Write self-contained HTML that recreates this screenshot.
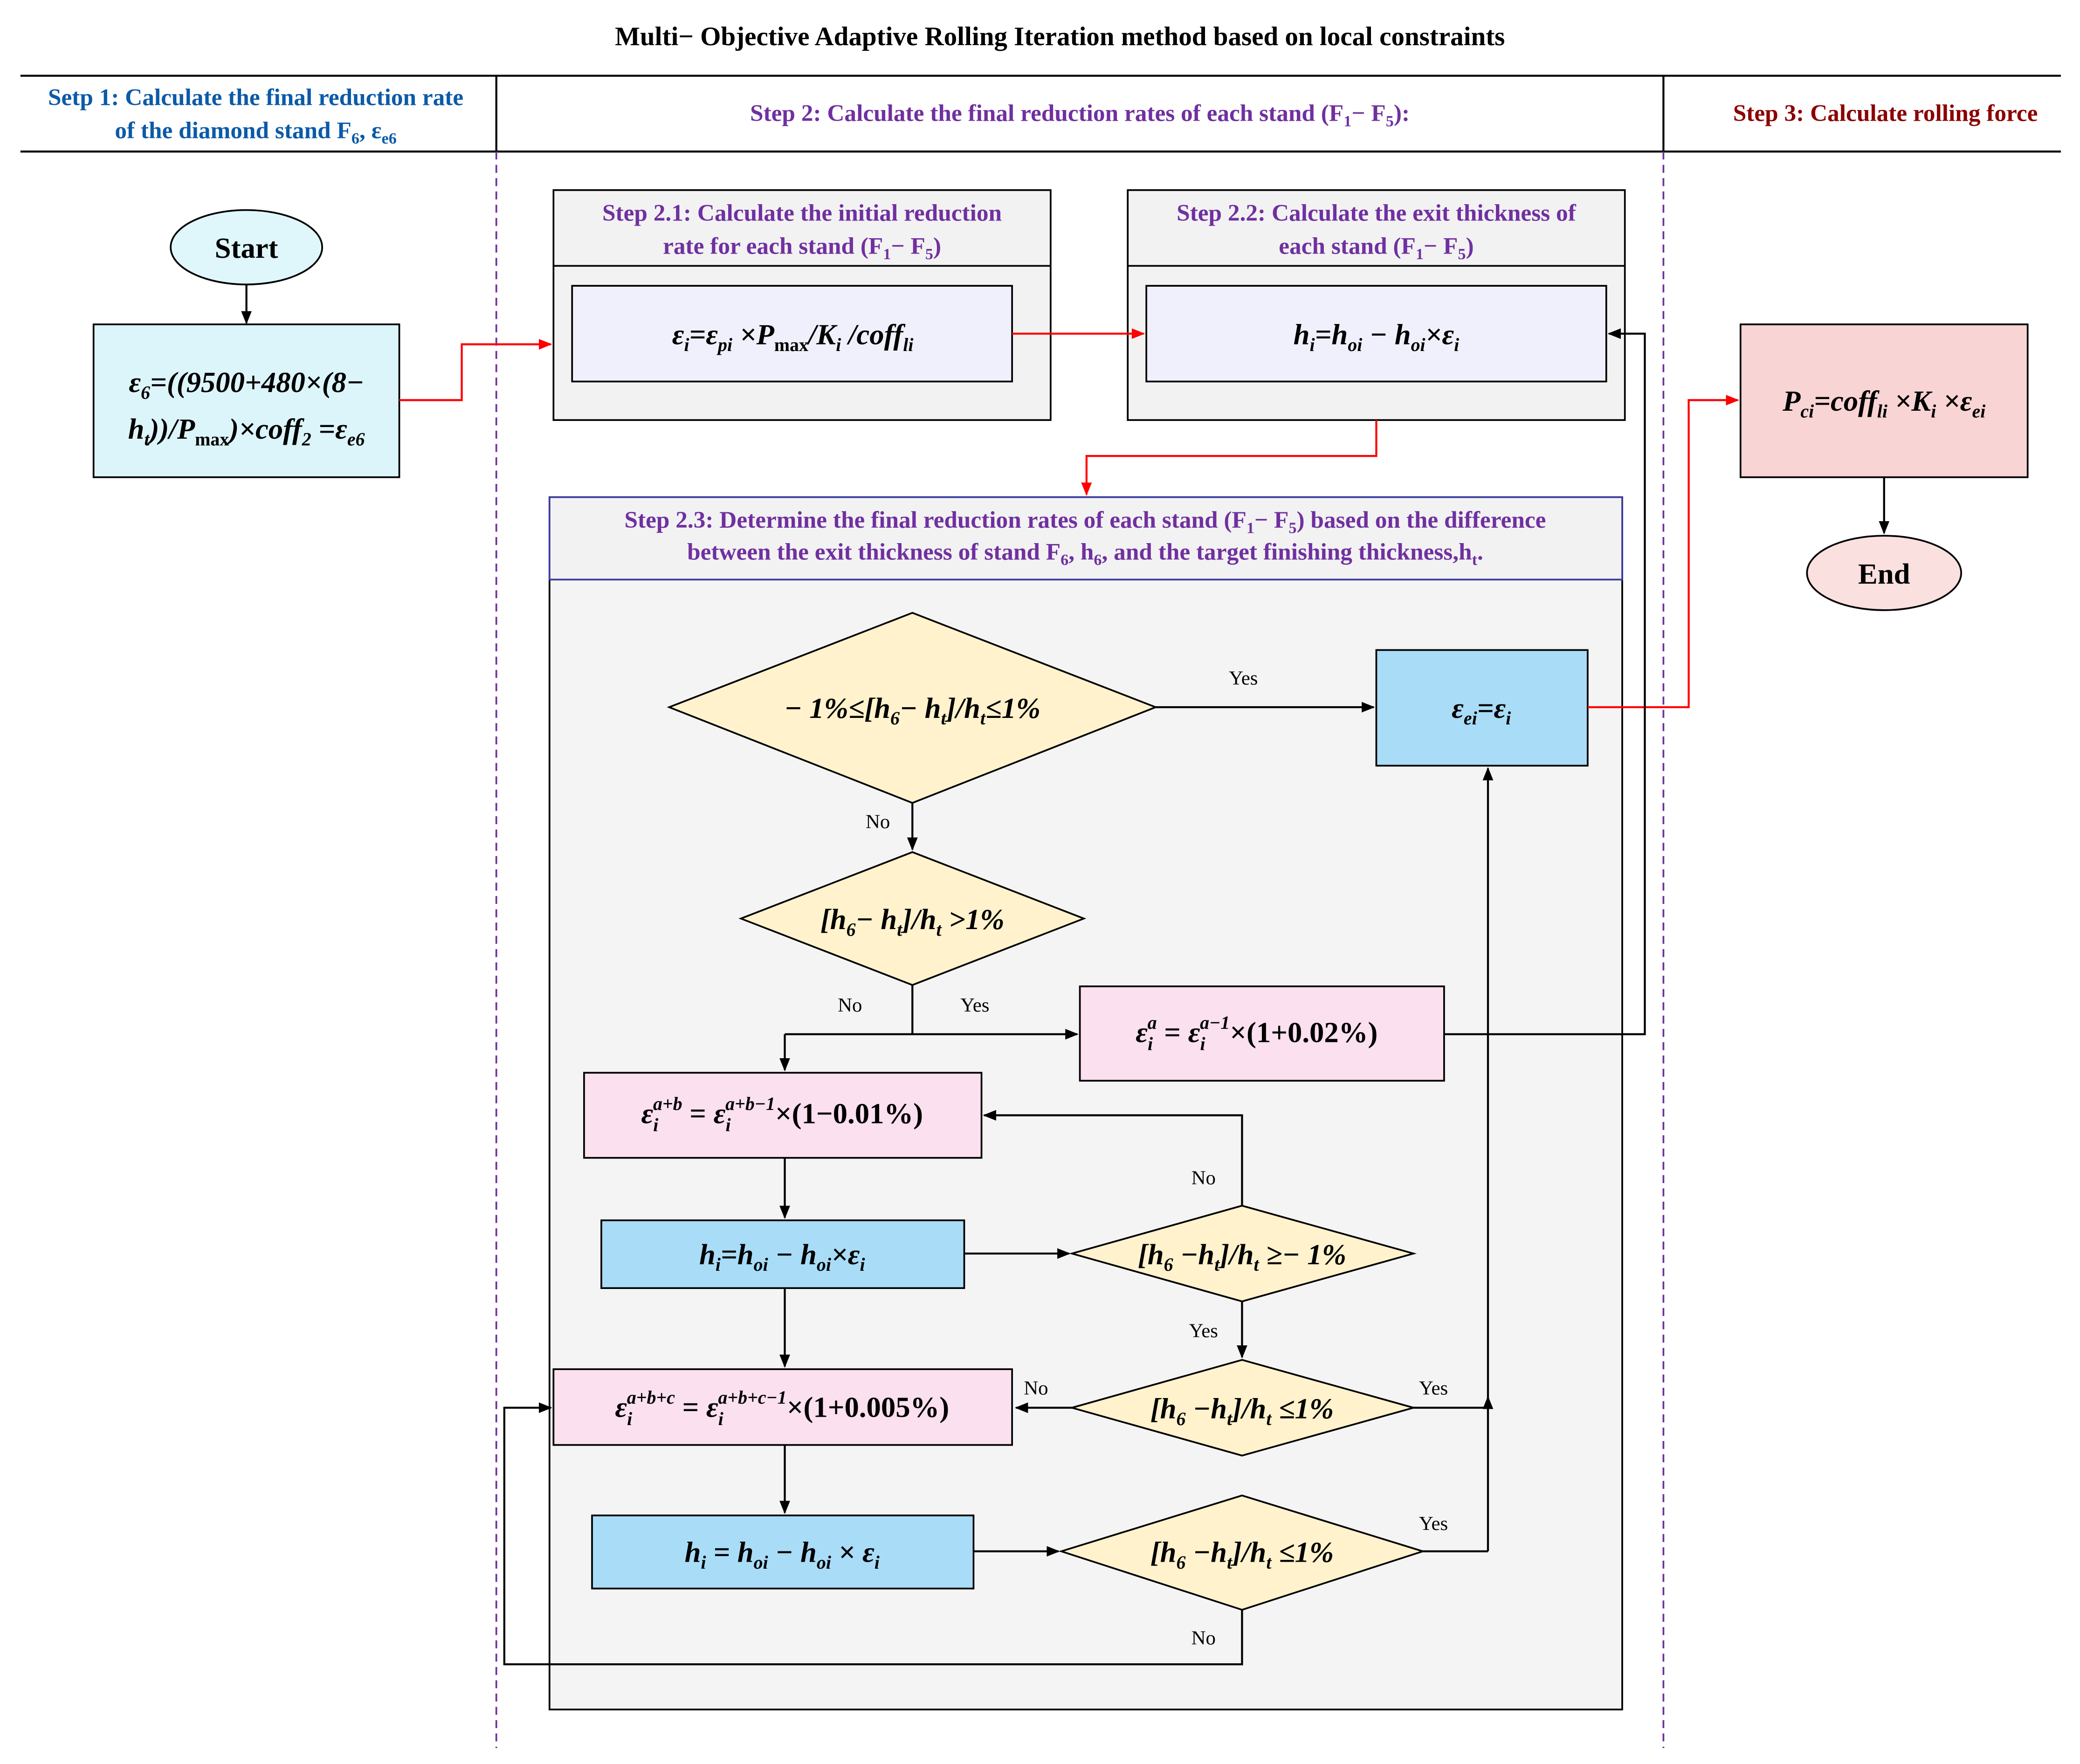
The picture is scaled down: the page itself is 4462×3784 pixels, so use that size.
<!DOCTYPE html>
<html><head><meta charset="utf-8"><style>
html,body{margin:0;padding:0;background:#fff}
svg{display:block}
svg,text,tspan{font-family:"Liberation Serif","DejaVu Serif",serif}
.b{font-weight:bold}
.m{font-weight:bold;font-style:italic;font-size:22px}
.lab{font-size:15px}
</style></head><body>
<svg width="4462" height="3784" viewBox="0 0 1564 1327" xmlns="http://www.w3.org/2000/svg" font-family="Liberation Serif, serif">
<defs>
<marker id="ak" markerWidth="10" markerHeight="10" refX="9" refY="5" orient="auto" markerUnits="userSpaceOnUse"><path d="M0,1 L10,5 L0,9 z" fill="#000"/></marker>
<marker id="ar" markerWidth="10" markerHeight="10" refX="9" refY="5" orient="auto" markerUnits="userSpaceOnUse"><path d="M0,1 L10,5 L0,9 z" fill="#f00"/></marker>
</defs>
<rect width="1564" height="1327" fill="#fff"/>
<text x="797" y="34" text-anchor="middle" class="b" font-size="20">Multi− Objective Adaptive Rolling Iteration method based on local constraints</text>
<line x1="15" y1="57" x2="1550" y2="57" stroke="#000" stroke-width="1.5"/>
<line x1="15" y1="114" x2="1550" y2="114" stroke="#000" stroke-width="1.5"/>
<line x1="373" y1="57" x2="373" y2="114" stroke="#000" stroke-width="1.5"/>
<line x1="1251" y1="57" x2="1251" y2="114" stroke="#000" stroke-width="1.5"/>
<line x1="373" y1="114" x2="373" y2="1315" stroke="#7030a0" stroke-width="1.3" stroke-dasharray="6,4"/>
<line x1="1251" y1="114" x2="1251" y2="1315" stroke="#7030a0" stroke-width="1.3" stroke-dasharray="6,4"/>
<text x="192" y="79" text-anchor="middle" class="b" font-size="18" fill="#0b5aa8">Setp 1: Calculate the final reduction rate</text>
<text x="192" y="104" text-anchor="middle" class="b" font-size="18" fill="#0b5aa8">of the diamond stand F<tspan font-size="12" dy="4">6</tspan><tspan dy="-4">, ε</tspan><tspan font-size="12" dy="4">e6</tspan></text>
<text x="812" y="91" text-anchor="middle" class="b" font-size="18" fill="#7030a0">Step 2: Calculate the  final reduction rates of each stand (F<tspan font-size="12" dy="4">1</tspan><tspan dy="-4">− F</tspan><tspan font-size="12" dy="4">5</tspan><tspan dy="-4">):</tspan></text>
<text x="1418" y="91" text-anchor="middle" class="b" font-size="18" fill="#8b0000">Step 3: Calculate rolling force</text>

<ellipse cx="185" cy="186" rx="57" ry="28" fill="#dff7fb" stroke="#000" stroke-width="1.3"/>
<text x="185" y="194" text-anchor="middle" class="b" font-size="22">Start</text>
<line x1="185" y1="214" x2="185" y2="243" stroke="#000" stroke-width="1.5" marker-end="url(#ak)"/>
<rect x="70" y="244" width="230" height="115" fill="#dcf5fb" stroke="#000" stroke-width="1.3"/>
<text x="185" y="295" text-anchor="middle" class="m">ε<tspan font-size="14" dy="5">6</tspan><tspan dy="-5">=((9500+480×(8−</tspan></text>
<text x="185" y="330" text-anchor="middle" class="m">h<tspan font-size="14" dy="5">t</tspan><tspan dy="-5">))/P</tspan><tspan font-size="14" dy="5" font-style="normal">max</tspan><tspan dy="-5">)×coff</tspan><tspan font-size="14" dy="5">2</tspan><tspan dy="-5"> =ε</tspan><tspan font-size="14" dy="5">e6</tspan></text>
<polyline points="300,301 347,301 347,259 414,259" fill="none" stroke="#f00" stroke-width="1.5" marker-end="url(#ar)"/>

<rect x="416" y="143" width="374" height="173" fill="#f2f2f2" stroke="#000" stroke-width="1.3"/>
<line x1="416" y1="200" x2="790" y2="200" stroke="#000" stroke-width="1.3"/>
<text x="603" y="166" text-anchor="middle" class="b" font-size="18" fill="#7030a0">Step 2.1: Calculate the initial reduction</text>
<text x="603" y="191" text-anchor="middle" class="b" font-size="18" fill="#7030a0">rate for each stand (F<tspan font-size="12" dy="4">1</tspan><tspan dy="-4">− F</tspan><tspan font-size="12" dy="4">5</tspan><tspan dy="-4">)</tspan></text>
<rect x="430" y="215" width="331" height="72" fill="#f0f0fc" stroke="#000" stroke-width="1.3"/>
<text x="596" y="259" text-anchor="middle" class="m">ε<tspan font-size="14" dy="5">i</tspan><tspan dy="-5">=ε</tspan><tspan font-size="14" dy="5">pi</tspan><tspan dy="-5"> ×P</tspan><tspan font-size="14" dy="5" font-style="normal">max</tspan><tspan dy="-5">/K</tspan><tspan font-size="14" dy="5">i</tspan><tspan dy="-5"> /coff</tspan><tspan font-size="14" dy="5">li</tspan></text>

<rect x="848" y="143" width="374" height="173" fill="#f2f2f2" stroke="#000" stroke-width="1.3"/>
<line x1="848" y1="200" x2="1222" y2="200" stroke="#000" stroke-width="1.3"/>
<text x="1035" y="166" text-anchor="middle" class="b" font-size="18" fill="#7030a0">Step 2.2: Calculate the exit thickness of</text>
<text x="1035" y="191" text-anchor="middle" class="b" font-size="18" fill="#7030a0">each stand (F<tspan font-size="12" dy="4">1</tspan><tspan dy="-4">− F</tspan><tspan font-size="12" dy="4">5</tspan><tspan dy="-4">)</tspan></text>
<rect x="862" y="215" width="346" height="72" fill="#f0f0fc" stroke="#000" stroke-width="1.3"/>
<text x="1035" y="259" text-anchor="middle" class="m">h<tspan font-size="14" dy="5">i</tspan><tspan dy="-5">=h</tspan><tspan font-size="14" dy="5">oi</tspan><tspan dy="-5"> − h</tspan><tspan font-size="14" dy="5">oi</tspan><tspan dy="-5">×ε</tspan><tspan font-size="14" dy="5">i</tspan></text>
<line x1="761" y1="251" x2="860" y2="251" stroke="#f00" stroke-width="1.5" marker-end="url(#ar)"/>
<polyline points="1035,316 1035,343 817,343 817,372" fill="none" stroke="#f00" stroke-width="1.5" marker-end="url(#ar)"/>

<rect x="413" y="374" width="807" height="912" fill="#f4f4f4" stroke="#000" stroke-width="1.3"/>
<rect x="413" y="374" width="807" height="62" fill="#f2f2f2" stroke="#3a3aa0" stroke-width="1.3"/>
<text x="816" y="397" text-anchor="middle" class="b" font-size="18" fill="#7030a0">Step 2.3: Determine the final reduction rates of each stand (F<tspan font-size="12" dy="4">1</tspan><tspan dy="-4">− F</tspan><tspan font-size="12" dy="4">5</tspan><tspan dy="-4">) based on the difference</tspan></text>
<text x="816" y="421" text-anchor="middle" class="b" font-size="18" fill="#7030a0">between the exit thickness of stand F<tspan font-size="12" dy="4">6</tspan><tspan dy="-4">, h</tspan><tspan font-size="12" dy="4">6</tspan><tspan dy="-4">, and the target finishing thickness,h</tspan><tspan font-size="12" dy="4">t</tspan><tspan dy="-4">.</tspan></text>

<polygon points="686,461 869,532 686,604 503,532" fill="#fff2cc" stroke="#000" stroke-width="1.3"/>
<text x="686" y="540" text-anchor="middle" class="m">− 1%≤[h<tspan font-size="14" dy="5">6</tspan><tspan dy="-5">− h</tspan><tspan font-size="14" dy="5">t</tspan><tspan dy="-5">]/h</tspan><tspan font-size="14" dy="5">t</tspan><tspan dy="-5">≤1%</tspan></text>
<line x1="869" y1="532" x2="1033" y2="532" stroke="#000" stroke-width="1.5" marker-end="url(#ak)"/>
<text x="935" y="515" text-anchor="middle" class="lab">Yes</text>
<rect x="1035" y="489" width="159" height="87" fill="#a9dcf7" stroke="#000" stroke-width="1.3"/>
<text x="1114" y="540" text-anchor="middle" class="m">ε<tspan font-size="14" dy="5">ei</tspan><tspan dy="-5">=ε</tspan><tspan font-size="14" dy="5">i</tspan></text>
<polyline points="1194,532 1270,532 1270,301 1307,301" fill="none" stroke="#f00" stroke-width="1.5" marker-end="url(#ar)"/>

<rect x="1309" y="244" width="216" height="115" fill="#f9d4d4" stroke="#000" stroke-width="1.3"/>
<text x="1417" y="309" text-anchor="middle" class="m">P<tspan font-size="14" dy="5">ci</tspan><tspan dy="-5">=coff</tspan><tspan font-size="14" dy="5">li</tspan><tspan dy="-5"> ×K</tspan><tspan font-size="14" dy="5">i</tspan><tspan dy="-5"> ×ε</tspan><tspan font-size="14" dy="5">ei</tspan></text>
<line x1="1417" y1="359" x2="1417" y2="401" stroke="#000" stroke-width="1.5" marker-end="url(#ak)"/>
<ellipse cx="1417" cy="431" rx="58" ry="28" fill="#fbe0e0" stroke="#000" stroke-width="1.3"/>
<text x="1417" y="439" text-anchor="middle" class="b" font-size="22">End</text>

<line x1="686" y1="604" x2="686" y2="639" stroke="#000" stroke-width="1.5" marker-end="url(#ak)"/>
<text x="660" y="623" text-anchor="middle" class="lab">No</text>
<polygon points="686,641 815,691 686,741 557,691" fill="#fff2cc" stroke="#000" stroke-width="1.3"/>
<text x="686" y="699" text-anchor="middle" class="m">[h<tspan font-size="14" dy="5">6</tspan><tspan dy="-5">− h</tspan><tspan font-size="14" dy="5">t</tspan><tspan dy="-5">]/h</tspan><tspan font-size="14" dy="5">t</tspan><tspan dy="-5"> &gt;1%</tspan></text>
<line x1="686" y1="741" x2="686" y2="778" stroke="#000" stroke-width="1.5"/>
<line x1="590" y1="778" x2="810" y2="778" stroke="#000" stroke-width="1.5" marker-end="url(#ak)"/>
<line x1="590" y1="778" x2="590" y2="805" stroke="#000" stroke-width="1.5" marker-end="url(#ak)"/>
<text x="639" y="761" text-anchor="middle" class="lab">No</text>
<text x="733" y="761" text-anchor="middle" class="lab">Yes</text>

<rect x="812" y="742" width="274" height="71" fill="#fbe0ef" stroke="#000" stroke-width="1.3"/>
<text x="945" y="784" text-anchor="middle" class="b" font-size="22"><tspan font-style="italic">ε</tspan><tspan font-size="14" font-style="italic" dy="6">i</tspan><tspan font-size="14" font-style="italic" dx="-4" dy="-16">a</tspan><tspan dy="10"> = </tspan><tspan font-style="italic">ε</tspan><tspan font-size="14" font-style="italic" dy="6">i</tspan><tspan font-size="14" font-style="italic" dx="-4" dy="-16">a−1</tspan><tspan dy="10">×(1+0.02%)</tspan></text>
<polyline points="1086,778 1237,778 1237,251 1210,251" fill="none" stroke="#000" stroke-width="1.5" marker-end="url(#ak)"/>

<rect x="439" y="807" width="299" height="64" fill="#fbe0ef" stroke="#000" stroke-width="1.3"/>
<text x="588" y="845" text-anchor="middle" class="b" font-size="22"><tspan font-style="italic">ε</tspan><tspan font-size="14" font-style="italic" dy="6">i</tspan><tspan font-size="14" font-style="italic" dx="-4" dy="-16">a+b</tspan><tspan dy="10"> = </tspan><tspan font-style="italic">ε</tspan><tspan font-size="14" font-style="italic" dy="6">i</tspan><tspan font-size="14" font-style="italic" dx="-4" dy="-16">a+b−1</tspan><tspan dy="10">×(1−0.01%)</tspan></text>
<line x1="590" y1="871" x2="590" y2="916" stroke="#000" stroke-width="1.5" marker-end="url(#ak)"/>

<rect x="452" y="918" width="273" height="51" fill="#a9dcf7" stroke="#000" stroke-width="1.3"/>
<text x="588" y="951" text-anchor="middle" class="m">h<tspan font-size="14" dy="5">i</tspan><tspan dy="-5">=h</tspan><tspan font-size="14" dy="5">oi</tspan><tspan dy="-5"> − h</tspan><tspan font-size="14" dy="5">oi</tspan><tspan dy="-5">×ε</tspan><tspan font-size="14" dy="5">i</tspan></text>
<line x1="725" y1="943" x2="804" y2="943" stroke="#000" stroke-width="1.5" marker-end="url(#ak)"/>

<polygon points="934,907 1063,943 934,979 806,943" fill="#fff2cc" stroke="#000" stroke-width="1.3"/>
<text x="934" y="951" text-anchor="middle" class="m">[h<tspan font-size="14" dy="5">6</tspan><tspan dy="-5"> −h</tspan><tspan font-size="14" dy="5">t</tspan><tspan dy="-5">]/h</tspan><tspan font-size="14" dy="5">t</tspan><tspan dy="-5"> ≥− 1%</tspan></text>
<polyline points="934,907 934,839 740,839" fill="none" stroke="#000" stroke-width="1.5" marker-end="url(#ak)"/>
<text x="905" y="891" text-anchor="middle" class="lab">No</text>
<line x1="934" y1="979" x2="934" y2="1021" stroke="#000" stroke-width="1.5" marker-end="url(#ak)"/>
<text x="905" y="1006" text-anchor="middle" class="lab">Yes</text>

<polygon points="934,1023 1063,1059 934,1095 806,1059" fill="#fff2cc" stroke="#000" stroke-width="1.3"/>
<text x="934" y="1067" text-anchor="middle" class="m">[h<tspan font-size="14" dy="5">6</tspan><tspan dy="-5"> −h</tspan><tspan font-size="14" dy="5">t</tspan><tspan dy="-5">]/h</tspan><tspan font-size="14" dy="5">t</tspan><tspan dy="-5"> ≤1%</tspan></text>
<line x1="806" y1="1059" x2="764" y2="1059" stroke="#000" stroke-width="1.5" marker-end="url(#ak)"/>
<text x="779" y="1049" text-anchor="middle" class="lab">No</text>
<line x1="1063" y1="1059" x2="1119" y2="1059" stroke="#000" stroke-width="1.5"/>
<text x="1078" y="1049" text-anchor="middle" class="lab">Yes</text>
<line x1="1119" y1="1167" x2="1119" y2="1051" stroke="#000" stroke-width="1.5" marker-end="url(#ak)"/>
<line x1="1119" y1="1059" x2="1119" y2="578" stroke="#000" stroke-width="1.5" marker-end="url(#ak)"/>
<line x1="590" y1="969" x2="590" y2="1028" stroke="#000" stroke-width="1.5" marker-end="url(#ak)"/>

<rect x="416" y="1030" width="345" height="57" fill="#fbe0ef" stroke="#000" stroke-width="1.3"/>
<text x="588" y="1066" text-anchor="middle" class="b" font-size="22"><tspan font-style="italic">ε</tspan><tspan font-size="14" font-style="italic" dy="6">i</tspan><tspan font-size="14" font-style="italic" dx="-4" dy="-16">a+b+c</tspan><tspan dy="10"> = </tspan><tspan font-style="italic">ε</tspan><tspan font-size="14" font-style="italic" dy="6">i</tspan><tspan font-size="14" font-style="italic" dx="-4" dy="-16">a+b+c−1</tspan><tspan dy="10">×(1+0.005%)</tspan></text>
<line x1="590" y1="1087" x2="590" y2="1138" stroke="#000" stroke-width="1.5" marker-end="url(#ak)"/>

<rect x="445" y="1140" width="287" height="55" fill="#a9dcf7" stroke="#000" stroke-width="1.3"/>
<text x="588" y="1175" text-anchor="middle" class="m">h<tspan font-size="14" dy="5">i</tspan><tspan dy="-5"> = h</tspan><tspan font-size="14" dy="5">oi</tspan><tspan dy="-5"> − h</tspan><tspan font-size="14" dy="5">oi</tspan><tspan dy="-5"> × ε</tspan><tspan font-size="14" dy="5">i</tspan></text>
<line x1="732" y1="1167" x2="796" y2="1167" stroke="#000" stroke-width="1.5" marker-end="url(#ak)"/>

<polygon points="934,1125 1070,1167 934,1211 798,1167" fill="#fff2cc" stroke="#000" stroke-width="1.3"/>
<text x="934" y="1175" text-anchor="middle" class="m">[h<tspan font-size="14" dy="5">6</tspan><tspan dy="-5"> −h</tspan><tspan font-size="14" dy="5">t</tspan><tspan dy="-5">]/h</tspan><tspan font-size="14" dy="5">t</tspan><tspan dy="-5"> ≤1%</tspan></text>
<line x1="1070" y1="1167" x2="1119" y2="1167" stroke="#000" stroke-width="1.5"/>
<text x="1078" y="1151" text-anchor="middle" class="lab">Yes</text>
<polyline points="934,1211 934,1252 379,1252 379,1059 414,1059" fill="none" stroke="#000" stroke-width="1.5" marker-end="url(#ak)"/>
<text x="905" y="1237" text-anchor="middle" class="lab">No</text>
</svg>
</body></html>
